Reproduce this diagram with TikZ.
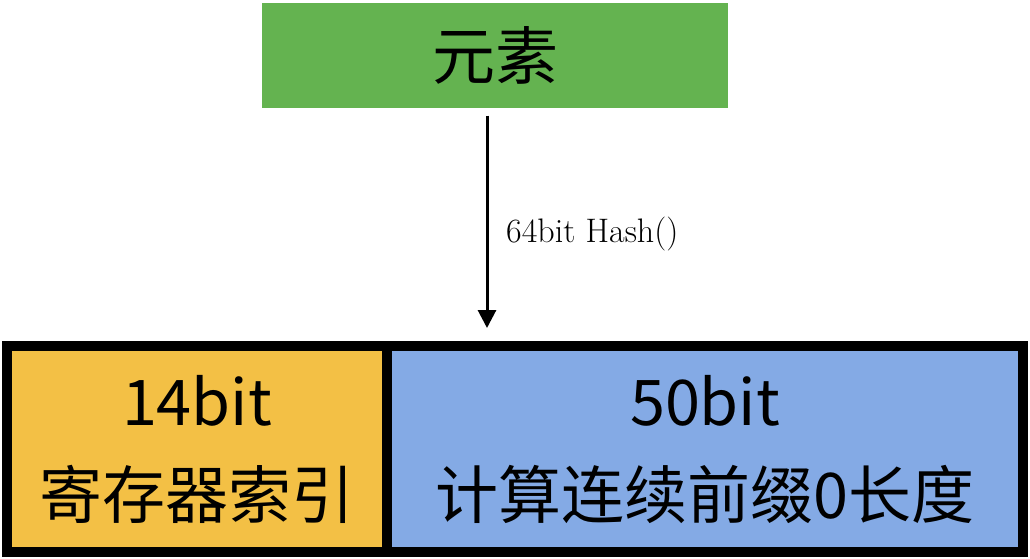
\documentclass[tikz,border=0pt]{standalone}
\usepackage{fontspec}
\newfontfamily\cjk{Noto Sans CJK SC}
\usetikzlibrary{arrows.meta}
\definecolor{elemgreen}{RGB}{100,179,80}
\definecolor{cellyellow}{RGB}{243,192,69}
\definecolor{cellblue}{RGB}{132,170,229}
\tikzset{
  cell/.style={draw=black, line width=10pt, inner sep=0pt, align=center,
    font=\cjk\fontsize{63}{93}\selectfont, minimum height=206pt},
  flow/.style={line width=3pt, -{Triangle[width=18pt,length=18pt]}},
}
\begin{document}
\begin{tikzpicture}[x=1pt,y=-1pt]
\useasboundingbox (0,0) rectangle (1030,558);
\node[fill=elemgreen, minimum width=466pt, minimum height=105pt, inner sep=0pt,
  font=\cjk\fontsize{63}{70}\selectfont] (elem) at (495,55) {元素};
\node[cell, fill=cellyellow, minimum width=380pt] (idx) at (197,449) {14bit\\寄存器索引};
\node[cell, fill=cellblue, minimum width=636pt] (len) at (705,449) {50bit\\计算连续前缀0长度};
\coordinate (tip) at (487,328);
\draw[flow] (elem.south -| tip) ++(0,8) -- (tip);
\node[anchor=base west, inner sep=0pt, font=\fontsize{34}{38}\selectfont] (lbl) at (506,242) {64bit Hash()};
\end{tikzpicture}
\end{document}
